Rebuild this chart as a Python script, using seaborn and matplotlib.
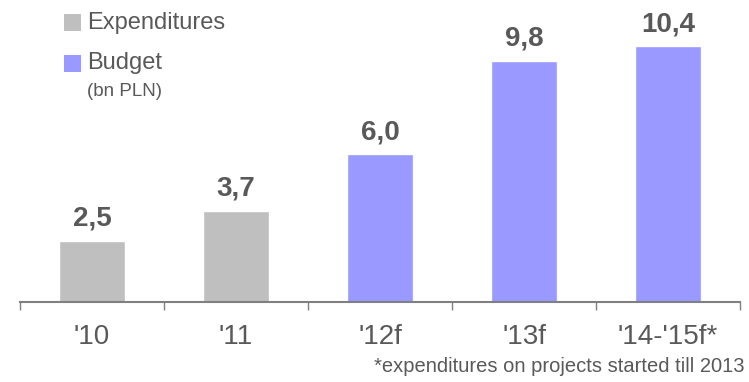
import matplotlib
matplotlib.use("Agg")
import matplotlib.pyplot as plt
import seaborn as sns
import pandas as pd
from matplotlib.patches import Rectangle
from matplotlib.ticker import FixedLocator

categories = ["'10", "'11", "'12f", "'13f", "'14-'15f*"]
values = [2.5, 3.7, 6.0, 9.8, 10.4]
kinds = ["Expenditures", "Expenditures", "Budget", "Budget", "Budget"]
value_labels = ["2,5", "3,7", "6,0", "9,8", "10,4"]
footnote = "*expenditures on projects started till 2013"

GRAY = "#BFBFBF"
PURPLE = "#9999FF"
TEXT = "#595959"
AXIS = "#808080"

sns.set_theme(style="white")
plt.rcParams['font.family'] = ['Liberation Sans', 'DejaVu Sans']

W, H = 749, 382
fig = plt.figure(figsize=(W / 100, H / 100), dpi=100)
ax = fig.add_axes([20 / W, 80 / H, 720 / W, 302 / H])

df = pd.DataFrame({"cat": categories, "val": values, "kind": kinds})
sns.barplot(data=df, x="cat", y="val", hue="kind",
            palette={"Expenditures": GRAY, "Budget": PURPLE},
            dodge=False, width=0.46, legend=False, ax=ax, saturation=1)

ax.set_xlim(-0.5, 4.5)
ax.set_ylim(0, 302 / 24.6)
ax.set_xlabel("")
ax.set_ylabel("")
ax.set_yticks([])
for s in ["top", "right", "left"]:
    ax.spines[s].set_visible(False)
ax.spines["bottom"].set_color(AXIS)
ax.spines["bottom"].set_linewidth(1.5)

ax.xaxis.set_minor_locator(FixedLocator([-0.5, 0.5, 1.5, 2.5, 3.5, 4.5]))
ax.tick_params(axis="x", which="minor", length=6, width=1, color=AXIS, bottom=True)
ax.tick_params(axis="x", which="major", length=0, pad=16, labelsize=20, labelcolor=TEXT)

for i, (v, lab) in enumerate(zip(values, value_labels)):
    ax.annotate(lab, xy=(i, v), xytext=(0, 10.8), textcoords="offset points",
                ha="center", va="baseline", fontsize=20, fontweight="bold", color=TEXT)

# legend
fig.patches.append(Rectangle((64 / W, 1 - 31 / H), 17 / W, 17 / H, transform=fig.transFigure,
                             facecolor=GRAY, edgecolor="none"))
fig.patches.append(Rectangle((64 / W, 1 - 72 / H), 17 / W, 17 / H, transform=fig.transFigure,
                             facecolor=PURPLE, edgecolor="none"))
fig.text(87 / W, 1 - 23 / H, "Expenditures", ha="left", va="center", fontsize=17, color=TEXT)
fig.text(87 / W, 1 - 63 / H, "Budget", ha="left", va="center", fontsize=17, color=TEXT)
fig.text(87 / W, 1 - 91 / H, "(bn PLN)", ha="left", va="center", fontsize=13.5, color=TEXT)

fig.text(745 / W, 1 - 366 / H, footnote, ha="right", va="center", fontsize=14.5, color=TEXT)

fig.savefig("out.png", dpi=100)
